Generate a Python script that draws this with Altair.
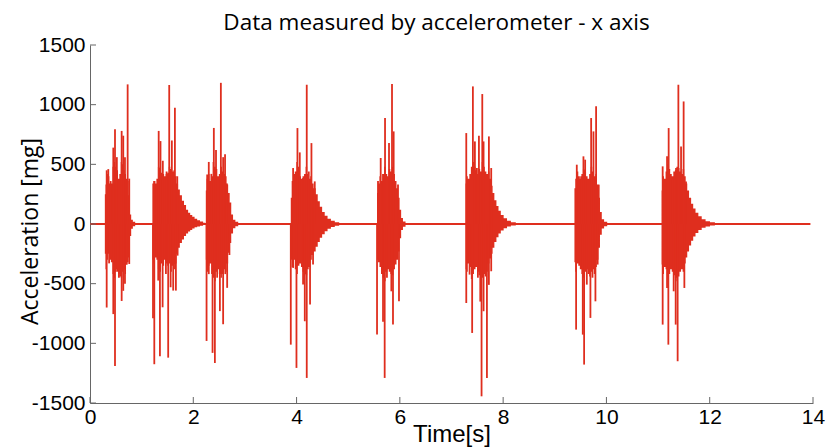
import altair as alt
import pandas as pd

RED = "#DF2E1E"
AXIS_GRAY = "#666666"

# ---- skyline envelope of the vibration record (time [s], upper / lower [mg]) ----
body_t = [0.0,
          0.285, 0.29, 0.31, 0.335, 0.36, 0.39, 0.42, 0.45, 0.475, 0.50, 0.53, 0.555, 0.58, 0.61, 0.635,
          0.66, 0.685, 0.71, 0.735, 0.76, 0.785, 0.81, 0.85, 0.90,
          1.205, 1.21, 1.24, 1.27, 1.30, 1.33, 1.36, 1.39, 1.42, 1.45, 1.48, 1.51, 1.54, 1.57, 1.60,
          1.63, 1.66, 1.69, 1.72, 1.76, 1.80, 1.84, 1.88, 1.92, 1.96, 2.00, 2.05, 2.10, 2.16, 2.22,
          2.24, 2.245, 2.27, 2.30, 2.33, 2.36, 2.39, 2.42, 2.45, 2.48, 2.51, 2.54, 2.57, 2.60, 2.63,
          2.66, 2.69, 2.72, 2.75, 2.79, 2.84, 2.90,
          3.885, 3.89, 3.92, 3.95, 3.98, 4.01, 4.04, 4.07, 4.10, 4.13, 4.16, 4.19, 4.22, 4.25, 4.28,
          4.31, 4.35, 4.39, 4.43, 4.47, 4.52, 4.57, 4.63, 4.70, 4.78, 4.87,
          5.555, 5.56, 5.59, 5.62, 5.65, 5.68, 5.71, 5.74, 5.77, 5.80, 5.83, 5.86, 5.89, 5.92, 5.95,
          5.98, 6.01, 6.04, 6.08, 6.14,
          7.27, 7.275, 7.30, 7.33, 7.36, 7.39, 7.42, 7.45, 7.48, 7.51, 7.54, 7.57, 7.60, 7.63, 7.66,
          7.69, 7.72, 7.75, 7.78, 7.81, 7.85, 7.89, 7.93, 7.98, 8.04, 8.11, 8.19, 8.30,
          9.378, 9.383, 9.41, 9.44, 9.47, 9.50, 9.53, 9.56, 9.59, 9.62, 9.65, 9.68, 9.71, 9.74, 9.77,
          9.80, 9.83, 9.86, 9.89, 9.93, 9.98, 10.05,
          11.067, 11.072, 11.10, 11.13, 11.16, 11.19, 11.22, 11.25, 11.28, 11.31, 11.34, 11.37, 11.40,
          11.43, 11.46, 11.49, 11.52, 11.55, 11.58, 11.62, 11.66, 11.70, 11.75, 11.81, 11.88, 11.96,
          12.05, 12.15,
          13.95]
body_hi = [8,
           8, 250, 330, 420, 400, 340, 340, 480, 520, 480, 450, 380, 420, 520, 500,
           450, 420, 380, 360, 240, 80, 35, 18, 8,
           8, 340, 360, 340, 380, 480, 470, 430, 420, 400, 420, 430, 480, 460, 440,
           450, 400, 340, 290, 240, 195, 160, 120, 95, 75, 60, 45, 32, 20, 10,
           8, 280, 380, 420, 360, 400, 520, 480, 460, 400, 420, 480, 440, 420, 400,
           330, 260, 180, 80, 35, 18, 8,
           8, 220, 360, 420, 440, 520, 480, 400, 380, 400, 420, 480, 420, 380, 400,
           340, 300, 250, 190, 145, 100, 70, 45, 28, 15, 8,
           8, 260, 340, 400, 360, 420, 480, 420, 400, 460, 440, 480, 420, 360, 300,
           220, 120, 50, 22, 8,
           8, 340, 400, 380, 420, 480, 520, 480, 450, 420, 460, 440, 520, 480, 440,
           420, 440, 380, 320, 260, 200, 150, 110, 75, 48, 28, 15, 8,
           8, 300, 380, 440, 400, 380, 420, 460, 450, 400, 380, 420, 480, 440, 400,
           420, 330, 220, 100, 40, 18, 8,
           8, 280, 400, 380, 440, 500, 460, 420, 400, 440, 450, 480, 470,
           440, 420, 460, 400, 340, 280, 220, 170, 130, 95, 65, 40, 24,
           14, 8,
           8]
body_lo = [-8,
           -8, -250, -380, -300, -250, -300, -320, -420, -450, -400, -380, -420, -440, -450, -400,
           -380, -420, -340, -320, -280, -100, -40, -18, -8,
           -8, -300, -330, -280, -300, -380, -400, -330, -350, -300, -330, -350, -330, -400, -350,
           -380, -330, -250, -200, -160, -130, -100, -80, -62, -50, -38, -28, -20, -14, -8,
           -8, -300, -400, -350, -330, -420, -450, -480, -400, -380, -420, -450, -420, -380, -400,
           -330, -240, -160, -80, -35, -18, -8,
           -8, -300, -360, -300, -380, -420, -350, -330, -360, -400, -420, -430, -380, -360, -300,
           -260, -230, -190, -150, -115, -85, -60, -40, -25, -14, -8,
           -8, -300, -320, -360, -420, -450, -480, -400, -380, -400, -420, -430, -380, -340, -300,
           -230, -120, -50, -22, -8,
           -8, -380, -400, -330, -360, -460, -420, -380, -360, -400, -430, -480, -450, -420, -440,
           -400, -330, -290, -250, -200, -150, -110, -80, -55, -35, -20, -12, -8,
           -8, -320, -400, -330, -350, -380, -420, -450, -400, -380, -420, -440, -400, -380, -420,
           -360, -300, -200, -90, -38, -18, -8,
           -8, -340, -420, -360, -380, -450, -420, -380, -400, -430, -450, -480, -440,
           -400, -380, -400, -330, -280, -230, -180, -140, -105, -75, -50, -32, -20,
           -12, -8,
           -8]

# ---- individual tall spikes (time [s], peak [mg]) ----
spike_t = [0.323, 0.354, 0.40, 0.451, 0.484, 0.52, 0.613, 0.644, 0.677, 0.729, 0.76,
           0.323, 0.37, 0.451, 0.484, 0.53, 0.56, 0.613, 0.644, 0.677, 0.71, 0.76,
           1.25, 1.33, 1.365, 1.41, 1.483, 1.534, 1.585, 1.644, 1.69,
           1.22, 1.245, 1.321, 1.354, 1.406, 1.47, 1.514, 1.561, 1.611, 1.663, 1.696,
           2.269, 2.30, 2.35, 2.398, 2.44, 2.534, 2.578, 2.615, 2.65,
           2.257, 2.30, 2.373, 2.418, 2.462, 2.515, 2.578, 2.62, 2.656, 2.70,
           3.933, 4.017, 4.062, 4.126, 4.197, 4.236, 4.288, 4.352,
           3.888, 3.933, 3.998, 4.126, 4.159, 4.197, 4.261, 4.319,
           5.577, 5.629, 5.674, 5.713, 5.790, 5.848, 5.880, 5.964,
           5.558, 5.609, 5.674, 5.706, 5.75, 5.835, 5.867, 5.983,
           7.286, 7.337, 7.414, 7.453, 7.492, 7.531, 7.596, 7.621, 7.724, 7.769,
           7.286, 7.35, 7.40, 7.511, 7.557, 7.582, 7.621, 7.686, 7.724, 7.769,
           9.426, 9.51, 9.555, 9.588, 9.704, 9.749, 9.80, 9.851,
           9.413, 9.542, 9.568, 9.62, 9.69, 9.73, 9.787, 9.83,
           11.089, 11.174, 11.205, 11.283, 11.348, 11.393, 11.445, 11.495, 11.541,
           11.089, 11.174, 11.199, 11.302, 11.341, 11.379, 11.509]
spike_v = [450, 460, 360, 640, 795, 560, 780, 740, 560, 1170, 380,
           -700, -330, -755, -1190, -400, -450, -645, -560, -500, -340, -335,
           360, 780, 695, 530, 440, 1165, 700, 975, 400,
           -790, -1175, -474, -1108, -698, -420, -1120, -530, -558, -558, -265,
           415, 520, 420, 805, 620, 1183, 560, 585, 340,
           -980, -420, -1080, -1165, -450, -730, -840, -420, -535, -260,
           469, 804, 600, 385, 1167, 440, 678, 357,
           -1011, -368, -1206, -508, -815, -1290, -675, -340,
           360, 553, 420, 888, 678, 1173, 776, 330,
           -927, -313, -820, -1290, -450, -564, -843, -648,
           762, 360, 1153, 692, 469, 740, 1089, 692, 734, 469,
           -662, -424, -913, -450, -650, -1444, -731, -1290, -510, -396,
           497, 400, 567, 539, 888, 776, 986, 330,
           -885, -927, -1178, -508, -787, -450, -648, -340,
           483, 567, 804, 385, 469, 1167, 650, 1027, 357,
           -843, -536, -1011, -564, -843, -1150, -536]

x_ticks = [0, 2, 4, 6, 8, 10, 12, 14]
y_ticks = [-1500, -1000, -500, 0, 500, 1000, 1500]

body = pd.DataFrame({"t": body_t, "hi": body_hi, "lo": body_lo})
spikes = pd.DataFrame({"t": spike_t, "lo": spike_v})
ytick_df = pd.DataFrame({"lo": y_ticks})
xtick_df = pd.DataFrame({"t": x_ticks})

x_scale = alt.Scale(domain=[0, 14], nice=False, zero=False)
y_scale = alt.Scale(domain=[-1500, 1500], nice=False)

x_axis = alt.Axis(values=x_ticks, title="Time[s]", grid=False, ticks=False,
                  labelFont="Liberation Sans", labelFontSize=21, labelColor="#000000",
                  labelPadding=3, labelFlush=False, domainColor=AXIS_GRAY,
                  labelExpr="'' + datum.value",
                  titleFont="Liberation Sans", titleFontSize=24, titleFontWeight="normal",
                  titleColor="#000000", titleY=31, titleBaseline="middle")
y_axis = alt.Axis(values=y_ticks, title="Acceleration [mg]", grid=False, ticks=False,
                  labelFont="Liberation Sans", labelFontSize=21, labelColor="#000000",
                  labelPadding=5, domainColor=AXIS_GRAY,
                  labelExpr="'' + datum.value",
                  titleFont="Open Sans", titleFontSize=23, titleFontWeight="normal",
                  titleColor="#000000", titleAngle=270, titleX=-60, titleY=186,
                  titleBaseline="middle")

area = alt.Chart(body).mark_area(color=RED, opacity=1, interpolate="step").encode(
    x=alt.X("t:Q", scale=x_scale, axis=x_axis),
    y=alt.Y("lo:Q", scale=y_scale, axis=y_axis),
    y2="hi:Q",
)

spike = alt.Chart(spikes).mark_rule(color=RED, strokeWidth=1.8).encode(
    x=alt.X("t:Q"),
    y=alt.Y("lo:Q"),
    y2=alt.datum(0),
)

ytick = alt.Chart(ytick_df).mark_rule(color=AXIS_GRAY).encode(
    y=alt.Y("lo:Q"),
    x=alt.value(0),
    x2=alt.value(6),
)
xtick = alt.Chart(xtick_df).mark_rule(color=AXIS_GRAY).encode(
    x=alt.X("t:Q"),
    y=alt.value(358),
    y2=alt.value(352),
)

chart = alt.layer(area, spike, ytick, xtick).properties(
    width=723,
    height=358,
    title=alt.TitleParams("Data measured by accelerometer - x axis", font="Open Sans",
                          fontSize=22.5, fontWeight="normal", color="#000000",
                          anchor="middle", dx=-15, offset=0),
    autosize=alt.AutoSizeParams(type="none"),
    padding={"left": 90, "top": 45, "right": 13, "bottom": 45},
).configure_view(stroke=None)

chart.save("out.html", embed_options={"renderer": "svg", "actions": False})
